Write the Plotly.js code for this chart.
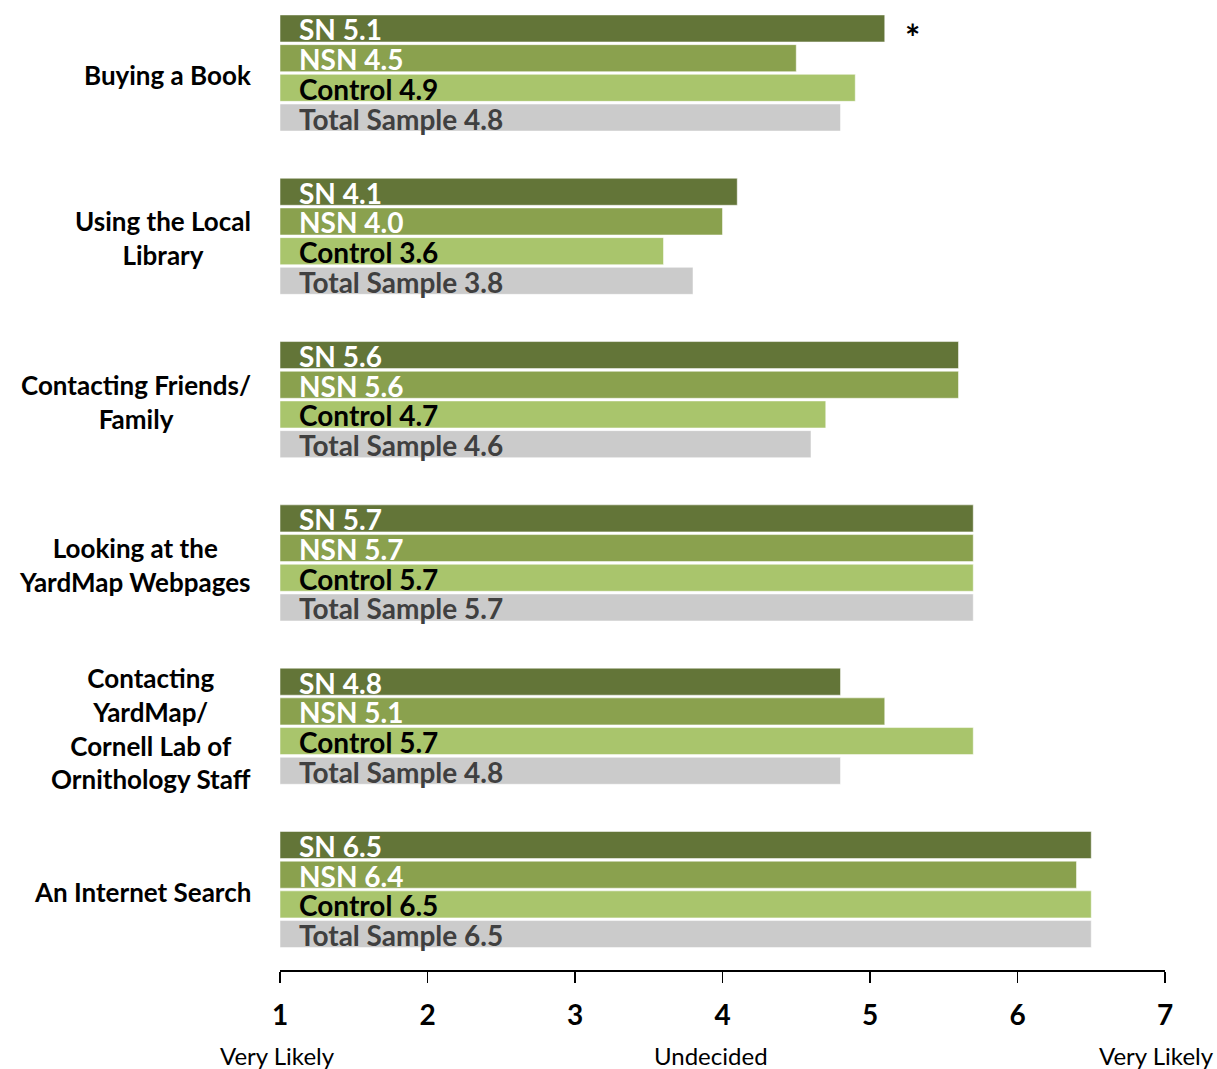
<!DOCTYPE html>
<html><head><meta charset="utf-8">
<script src="https://cdn.plot.ly/plotly-3.0.1.min.js"></script>
<style>body{margin:0;background:#fff}#c{width:1217px;height:1069px}</style>
</head><body><div id="c"></div>
<script>
const categories = ["Buying a Book","Using the Local<br>Library","Contacting Friends/<br>Family","Looking at the<br>YardMap Webpages","Contacting<br>YardMap/<br>Cornell Lab of<br>Ornithology Staff","An Internet Search"];
const seriesNames = ["SN","NSN","Control","Total Sample"];
const sn = [5.1,4.1,5.6,5.7,4.8,6.5];
const nsn = [4.5,4.0,5.6,5.7,5.1,6.4];
const control = [4.9,3.6,4.7,5.7,5.7,6.5];
const total = [4.8,3.8,4.6,5.7,4.8,6.5];
const tickVals = [1,2,3,4,5,6,7];
const scaleLabels = ["Very Likely","Undecided","Very Likely"];
const scaleLabelPos = [1,3.92,6.94];
const significant = [true,false,false,false,false,false];

const series = [sn,nsn,control,total];
const colors = ["#637538","#8aa14e","#a9c56c","#cbcbcb"];
const textColors = ["#ffffff","#ffffff","#000000","#404040"];
const FONT = "Lato, 'Open Sans', sans-serif";
const GROUP = 5.5;
const BASE = 1;

const traces = [];
const annotations = [];
series.forEach((vals, k) => {
  const ys = vals.map((v,g) => g*GROUP + k);
  traces.push({
    type:'bar', orientation:'h',
    y: ys, x: vals.map(v => v - BASE), base: vals.map(() => BASE),
    width: 0.91,
    marker:{color:colors[k], line:{color:'rgba(255,255,255,0.5)', width:1}},
    hoverinfo:'skip', showlegend:false
  });
  vals.forEach((v,g) => {
    annotations.push({
      x: BASE, y: g*GROUP + k, xref:'x', yref:'y', xanchor:'left', yanchor:'middle',
      xshift: 17, yshift: -1, showarrow:false,
      text: '<b>' + seriesNames[k] + ' ' + v.toFixed(1) + '</b>',
      font:{family:FONT, size:28, color:textColors[k]}
    });
  });
});
categories.forEach((c,g) => {
  annotations.push({
    x:0, xref:'paper', y: g*GROUP + 1.5, yref:'y', xanchor:'right', yanchor:'middle',
    xshift:-27, yshift:-2, showarrow:false, align:'center',
    text:'<b>' + c + '</b>',
    font:{family:FONT, size:26, color:'#000'}
  });
});
significant.forEach((s,g) => {
  if (s) annotations.push({
    x: sn[g], y: g*GROUP, xref:'x', yref:'y', xanchor:'left', yanchor:'middle',
    xshift: 18, yshift:-9, showarrow:false, text:'<b>*</b>',
    font:{family:FONT, size:36, color:'#000'}
  });
});
scaleLabels.forEach((t,i) => {
  annotations.push({
    x: scaleLabelPos[i], xref:'x', y:0, yref:'paper', yanchor:'middle', xanchor:'center',
    xshift: i === 0 ? -3 : 0, yshift:-85, showarrow:false, text:t,
    font:{family:FONT, size:24, color:'#000'}
  });
});

const layout = {
  width:1217, height:1069,
  margin:{l:280, r:52, t:5, b:99},
  paper_bgcolor:'#fff', plot_bgcolor:'#fff',
  barmode:'overlay',
  xaxis:{range:[1,7], tickvals:tickVals, ticktext:tickVals.map(String),
    showline:true, linecolor:'#000', linewidth:2, ticks:'outside', ticklen:11, tickwidth:1.5, tickcolor:'#000',
    showgrid:false, zeroline:false, fixedrange:true, ticklabelstandoff:8,
    tickfont:{family:FONT, size:28, color:'#000', weight:'bold'}},
  yaxis:{range:[31.71,-0.79], showticklabels:false, showgrid:false, zeroline:false, showline:false, ticks:''},
  annotations: annotations
};
Plotly.newPlot('c', traces, layout, {displayModeBar:false, staticPlot:true});
</script></body></html>
